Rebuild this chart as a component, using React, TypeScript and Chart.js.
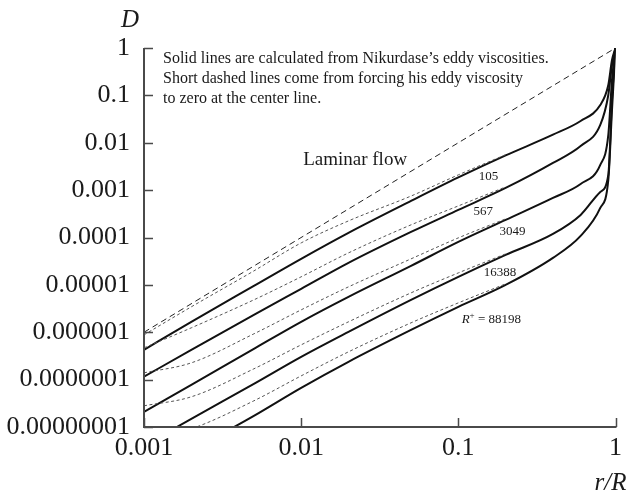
import React, { useEffect, useRef } from "react";
import { Chart, registerables } from "chart.js";

Chart.register(...registerables);

// ---- data ----
const rGrid = [0.001, 0.002, 0.005, 0.01, 0.02, 0.05, 0.1, 0.2, 0.4, 0.6, 0.8, 0.9, 0.95, 1.0];
const solid105 = [4.26e-7, 1.66e-6, 9.5e-6, 3.54e-5, 1.25e-4, 5.9e-4, 1.85e-3, 5.4e-3, 0.0148, 0.0288, 0.0627, 0.166, 0.558, 1];
const solid567 = [1.15e-7, 4.26e-7, 2.33e-6, 8.24e-6, 2.91e-5, 1.31e-4, 3.82e-4, 1.11e-3, 3.75e-3, 8.55e-3, 0.0238, 0.102, 0.438, 1];
const solid3049 = [2.09e-8, 7.77e-8, 4.47e-7, 1.66e-6, 5.58e-6, 2.52e-5, 8.07e-5, 2.35e-4, 6.84e-4, 1.35e-3, 3.4e-3, 0.0146, 0.211, 1];
const solid16388 = [4.01e-9, 1.49e-8, 8.15e-8, 3.03e-7, 1.02e-6, 4.83e-6, 1.48e-5, 4.3e-5, 1.19e-4, 3.0e-4, 9.16e-4, 2.09e-3, 0.08, 1];
const solid88198 = [8.47e-10, 3.15e-9, 1.72e-8, 6.71e-8, 2.38e-7, 1.12e-6, 3.44e-6, 1.0e-5, 3.72e-5, 1.08e-4, 4.21e-4, 1.64e-3, 0.0492, 1];

const dashR = [0.001, 0.002, 0.005, 0.01, 0.02, 0.05, 0.1, 0.2];
const dashed105 = [8.81e-7, 3.44e-6, 1.97e-5, 7.69e-5, 2.24e-4, 7.5e-4, 2.1e-3, 5.6e-3];
const dashed567 = [4.69e-7, 1.24e-6, 4.83e-6, 1.48e-5, 4.73e-5, 1.85e-4, 4.64e-4, 1.17e-3];
const dashed3049 = [1.39e-7, 2.26e-7, 9.25e-7, 2.97e-6, 9.08e-6, 3.54e-5, 9.82e-5, 2.47e-4];
const dashed16388 = [2.8e-8, 4.34e-8, 1.69e-7, 5.42e-7, 1.66e-6, 6.78e-6, 1.79e-5, 4.51e-5];
const dashed88198 = [5.37e-9, 9.16e-9, 3.57e-8, 1.2e-7, 3.86e-7, 1.58e-6, 4.17e-6, 1.05e-5];

const laminarR = [0.001, 1];
const laminarD = [1e-6, 1];

const xTickValues = [0.001, 0.01, 0.1, 1];
const xTickLabels = ["0.001", "0.01", "0.1", "1"];
const yTickValues = [1e-8, 1e-7, 1e-6, 1e-5, 1e-4, 1e-3, 1e-2, 1e-1, 1];
const yTickLabels = ["0.00000001", "0.0000001", "0.000001", "0.00001", "0.0001", "0.001", "0.01", "0.1", "1"];

const curveNames = ["105", "567", "3049", "16388", "88198"];
const curveLabelR = [0.135, 0.125, 0.183, 0.145, 0.105];
const curveLabelD = [1.9e-3, 3.47e-4, 1.31e-4, 1.79e-5, 1.83e-6];

const laminarLabel = "Laminar flow";
const laminarLabelR = 0.0103;
const laminarLabelD = 4.34e-3;

const noteLines = [
  "Solid lines are calculated from Nikurdase\u2019s eddy viscosities.",
  "Short dashed lines come from forcing his eddy viscosity",
  "to zero at the center line.",
];

const SERIF = "'Liberation Serif', 'DejaVu Serif', serif";

function pts(xs: number[], ys: number[]) {
  return xs.map((x, i) => ({ x, y: ys[i] }));
}

const decorPlugin = {
  id: "decor",
  afterDraw(chart: any) {
    const { ctx, chartArea: a, scales } = chart;
    const x = scales.x;
    const y = scales.y;
    ctx.save();
    // axes
    ctx.strokeStyle = "#4a4a4a";
    ctx.lineWidth = 2;
    ctx.beginPath();
    ctx.moveTo(a.left, a.top);
    ctx.lineTo(a.left, a.bottom);
    ctx.lineTo(a.right + 1, a.bottom);
    ctx.stroke();
    // inward ticks
    ctx.lineWidth = 1.5;
    ctx.beginPath();
    xTickValues.forEach((v) => {
      const px = Math.round(x.getPixelForValue(v)) + 0.5;
      ctx.moveTo(px, a.bottom);
      ctx.lineTo(px, a.bottom - 9);
    });
    yTickValues.forEach((v) => {
      const py = Math.round(y.getPixelForValue(v)) + 0.5;
      ctx.moveTo(a.left, py);
      ctx.lineTo(a.left + 9, py);
    });
    ctx.stroke();

    ctx.fillStyle = "#1a1a1a";
    // axis titles
    ctx.font = `italic 25px ${SERIF}`;
    ctx.textBaseline = "middle";
    ctx.textAlign = "center";
    ctx.fillText("D", a.left - 14, a.top - 28);
    ctx.textAlign = "right";
    ctx.fillText("r/R", a.right + 11, a.bottom + 56);

    // note
    ctx.font = `16px ${SERIF}`;
    ctx.textAlign = "left";
    noteLines.forEach((t, i) => {
      ctx.fillText(t, a.left + 19, a.top + 11 + i * 20);
    });

    // laminar label
    ctx.font = `19px ${SERIF}`;
    ctx.fillText(laminarLabel, x.getPixelForValue(laminarLabelR), y.getPixelForValue(laminarLabelD));

    // curve labels
    curveNames.forEach((name, i) => {
      const px = x.getPixelForValue(curveLabelR[i]);
      const py = y.getPixelForValue(curveLabelD[i]);
      if (i === curveNames.length - 1) {
        let cx = px;
        ctx.font = `italic 13px ${SERIF}`;
        ctx.fillText("R", cx, py);
        cx += ctx.measureText("R").width;
        ctx.font = `9px ${SERIF}`;
        ctx.fillText("+", cx, py - 4);
        cx += ctx.measureText("+").width;
        ctx.font = `13px ${SERIF}`;
        ctx.fillText(" = " + name, cx, py);
      } else {
        ctx.font = `13px ${SERIF}`;
        ctx.fillText(name, px, py);
      }
    });
    ctx.restore();
  },
};

export default function App() {
  const ref = useRef<HTMLCanvasElement | null>(null);

  useEffect(() => {
    document.body.style.margin = "0";
    const canvas = ref.current;
    if (!canvas) return;

    const solidStyle = {
      borderColor: "#111",
      borderWidth: 2,
      pointRadius: 0,
      cubicInterpolationMode: "monotone" as const,
      fill: false,
    };
    const dashStyle = {
      borderColor: "#555",
      borderWidth: 1,
      borderDash: [3, 2.5],
      pointRadius: 0,
      cubicInterpolationMode: "monotone" as const,
      fill: false,
    };

    const chart = new Chart(canvas, {
      type: "line",
      data: {
        datasets: [
          { ...dashStyle, data: pts(dashR, dashed105) },
          { ...dashStyle, data: pts(dashR, dashed567) },
          { ...dashStyle, data: pts(dashR, dashed3049) },
          { ...dashStyle, data: pts(dashR, dashed16388) },
          { ...dashStyle, data: pts(dashR, dashed88198) },
          {
            borderColor: "#222",
            borderWidth: 1,
            borderDash: [6, 4],
            pointRadius: 0,
            fill: false,
            data: pts(laminarR, laminarD),
          },
          { ...solidStyle, data: pts(rGrid, solid105) },
          { ...solidStyle, data: pts(rGrid, solid567) },
          { ...solidStyle, data: pts(rGrid, solid3049) },
          { ...solidStyle, data: pts(rGrid, solid16388) },
          { ...solidStyle, data: pts(rGrid, solid88198) },
        ],
      },
      options: {
        responsive: false,
        animation: false,
        devicePixelRatio: 1,
        layout: { padding: { left: 0, top: 48, right: 8, bottom: 0 } },
        plugins: { legend: { display: false }, tooltip: { enabled: false } },
        scales: {
          x: {
            type: "logarithmic",
            min: 0.001,
            max: 1,
            grid: { display: false, drawTicks: false },
            border: { display: false },
            afterBuildTicks: (s: any) => {
              s.ticks = xTickValues.map((v) => ({ value: v }));
            },
            afterFit: (s: any) => {
              s.height = 68;
            },
            ticks: {
              autoSkip: false,
              maxRotation: 0,
              padding: 6,
              color: "#1a1a1a",
              font: { family: SERIF, size: 26 },
              callback: (v: any) => {
                const i = xTickValues.findIndex((t) => Math.abs(Math.log10(t) - Math.log10(v)) < 1e-6);
                return i >= 0 ? xTickLabels[i] : "";
              },
            },
          },
          y: {
            type: "logarithmic",
            min: 1e-8,
            max: 1,
            grid: { display: false, drawTicks: false },
            border: { display: false },
            afterBuildTicks: (s: any) => {
              s.ticks = yTickValues.map((v) => ({ value: v }));
            },
            afterFit: (s: any) => {
              s.width = 144;
            },
            ticks: {
              autoSkip: false,
              padding: 14,
              color: "#1a1a1a",
              font: { family: SERIF, size: 26 },
              callback: (v: any) => {
                const i = yTickValues.findIndex((t) => Math.abs(Math.log10(t) - Math.log10(v)) < 1e-6);
                return i >= 0 ? yTickLabels[i] : "";
              },
            },
          },
        },
      },
      plugins: [decorPlugin],
    });
    return () => chart.destroy();
  }, []);

  return <canvas ref={ref} width={628} height={495} style={{ display: "block" }} />;
}
